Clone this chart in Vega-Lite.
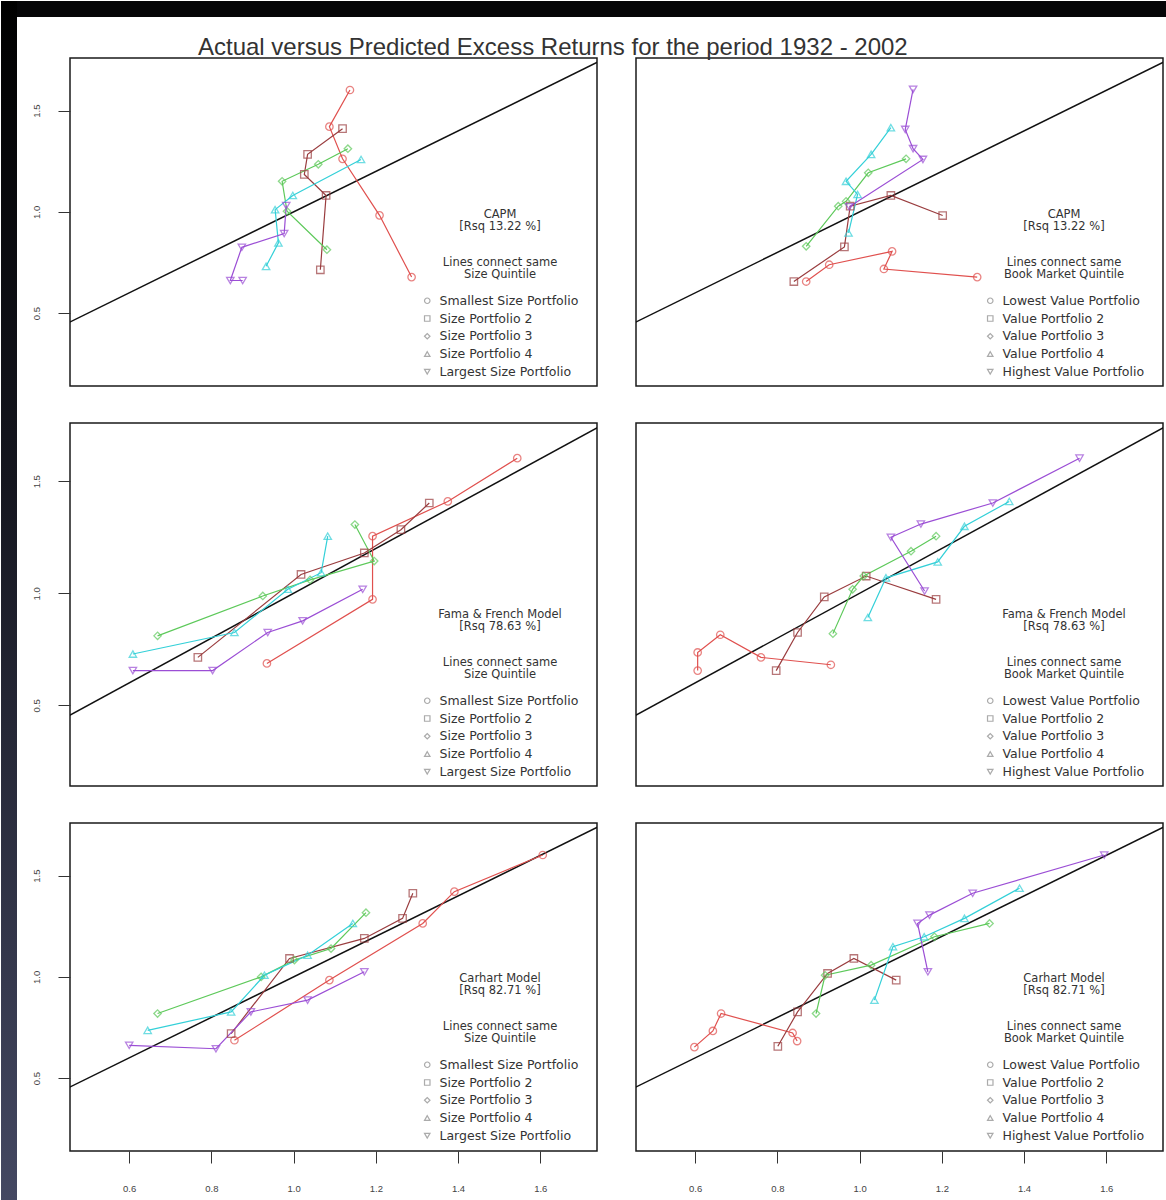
{
  "$schema": "https://vega.github.io/schema/vega-lite/v6.json",
  "background": "white",
  "padding": 0,
  "autosize": {"type": "pad"},
  "datasets": {
    "diag": [{"x": 0.3, "y": 0.3}, {"x": 1.9, "y": 1.9}],
    "pts": [
      {"p":"TL","s":1,"i":1,"x":1.287,"y":0.678},{"p":"TL","s":1,"i":2,"x":1.209,"y":0.983},{"p":"TL","s":1,"i":3,"x":1.119,"y":1.262},{"p":"TL","s":1,"i":4,"x":1.087,"y":1.421},{"p":"TL","s":1,"i":5,"x":1.137,"y":1.602},
      {"p":"TL","s":2,"i":1,"x":1.065,"y":0.714},{"p":"TL","s":2,"i":2,"x":1.079,"y":1.081},{"p":"TL","s":2,"i":3,"x":1.026,"y":1.185},{"p":"TL","s":2,"i":4,"x":1.034,"y":1.284},{"p":"TL","s":2,"i":5,"x":1.119,"y":1.411},
      {"p":"TL","s":3,"i":1,"x":1.081,"y":0.813},{"p":"TL","s":3,"i":2,"x":0.984,"y":1.003},{"p":"TL","s":3,"i":3,"x":0.972,"y":1.151},{"p":"TL","s":3,"i":4,"x":1.06,"y":1.235},{"p":"TL","s":3,"i":5,"x":1.132,"y":1.312},
      {"p":"TL","s":4,"i":1,"x":0.933,"y":0.731},{"p":"TL","s":4,"i":2,"x":0.963,"y":0.847},{"p":"TL","s":4,"i":3,"x":0.955,"y":1.011},{"p":"TL","s":4,"i":4,"x":0.998,"y":1.081},{"p":"TL","s":4,"i":5,"x":1.164,"y":1.259},
      {"p":"TL","s":5,"i":1,"x":0.876,"y":0.661},{"p":"TL","s":5,"i":2,"x":0.846,"y":0.661},{"p":"TL","s":5,"i":3,"x":0.874,"y":0.825},{"p":"TL","s":5,"i":4,"x":0.977,"y":0.893},{"p":"TL","s":5,"i":5,"x":0.982,"y":1.031},

      {"p":"TR","s":1,"i":1,"x":0.870,"y":0.656},{"p":"TR","s":1,"i":2,"x":0.926,"y":0.739},{"p":"TR","s":1,"i":3,"x":1.079,"y":0.805},{"p":"TR","s":1,"i":4,"x":1.059,"y":0.718},{"p":"TR","s":1,"i":5,"x":1.286,"y":0.678},
      {"p":"TR","s":2,"i":1,"x":0.840,"y":0.656},{"p":"TR","s":2,"i":2,"x":0.963,"y":0.827},{"p":"TR","s":2,"i":3,"x":0.977,"y":1.028},{"p":"TR","s":2,"i":4,"x":1.076,"y":1.081},{"p":"TR","s":2,"i":5,"x":1.202,"y":0.982},
      {"p":"TR","s":3,"i":1,"x":0.870,"y":0.830},{"p":"TR","s":3,"i":2,"x":0.948,"y":1.028},{"p":"TR","s":3,"i":3,"x":0.967,"y":1.052},{"p":"TR","s":3,"i":4,"x":1.021,"y":1.193},{"p":"TR","s":3,"i":5,"x":1.113,"y":1.262},
      {"p":"TR","s":4,"i":1,"x":0.973,"y":0.896},{"p":"TR","s":4,"i":2,"x":0.995,"y":1.086},{"p":"TR","s":4,"i":3,"x":0.967,"y":1.151},{"p":"TR","s":4,"i":4,"x":1.028,"y":1.284},{"p":"TR","s":4,"i":5,"x":1.076,"y":1.416},
      {"p":"TR","s":5,"i":1,"x":0.975,"y":1.025},{"p":"TR","s":5,"i":2,"x":1.154,"y":1.259},{"p":"TR","s":5,"i":3,"x":1.130,"y":1.312},{"p":"TR","s":5,"i":4,"x":1.111,"y":1.407},{"p":"TR","s":5,"i":5,"x":1.130,"y":1.605},

      {"p":"ML","s":1,"i":1,"x":0.935,"y":0.687},{"p":"ML","s":1,"i":2,"x":1.192,"y":0.973},{"p":"ML","s":1,"i":3,"x":1.192,"y":1.255},{"p":"ML","s":1,"i":4,"x":1.375,"y":1.41},{"p":"ML","s":1,"i":5,"x":1.544,"y":1.603},
      {"p":"ML","s":2,"i":1,"x":0.767,"y":0.714},{"p":"ML","s":2,"i":2,"x":1.018,"y":1.084},{"p":"ML","s":2,"i":3,"x":1.172,"y":1.18},{"p":"ML","s":2,"i":4,"x":1.261,"y":1.284},{"p":"ML","s":2,"i":5,"x":1.330,"y":1.403},
      {"p":"ML","s":3,"i":1,"x":0.669,"y":0.810},{"p":"ML","s":3,"i":2,"x":0.925,"y":0.988},{"p":"ML","s":3,"i":3,"x":1.04,"y":1.06},{"p":"ML","s":3,"i":4,"x":1.196,"y":1.144},{"p":"ML","s":3,"i":5,"x":1.149,"y":1.307},
      {"p":"ML","s":4,"i":1,"x":0.609,"y":0.729},{"p":"ML","s":4,"i":2,"x":0.856,"y":0.825},{"p":"ML","s":4,"i":3,"x":0.986,"y":1.018},{"p":"ML","s":4,"i":4,"x":1.067,"y":1.092},{"p":"ML","s":4,"i":5,"x":1.083,"y":1.255},
      {"p":"ML","s":5,"i":1,"x":0.609,"y":0.655},{"p":"ML","s":5,"i":2,"x":0.803,"y":0.655},{"p":"ML","s":5,"i":3,"x":0.937,"y":0.825},{"p":"ML","s":5,"i":4,"x":1.022,"y":0.877},{"p":"ML","s":5,"i":5,"x":1.168,"y":1.018},

      {"p":"MR","s":1,"i":1,"x":0.606,"y":0.655},{"p":"MR","s":1,"i":2,"x":0.606,"y":0.736},{"p":"MR","s":1,"i":3,"x":0.661,"y":0.815},{"p":"MR","s":1,"i":4,"x":0.760,"y":0.714},{"p":"MR","s":1,"i":5,"x":0.930,"y":0.681},
      {"p":"MR","s":2,"i":1,"x":0.797,"y":0.655},{"p":"MR","s":2,"i":2,"x":0.849,"y":0.825},{"p":"MR","s":2,"i":3,"x":0.914,"y":0.984},{"p":"MR","s":2,"i":4,"x":1.016,"y":1.077},{"p":"MR","s":2,"i":5,"x":1.186,"y":0.973},
      {"p":"MR","s":3,"i":1,"x":0.935,"y":0.82},{"p":"MR","s":3,"i":2,"x":0.983,"y":1.018},{"p":"MR","s":3,"i":3,"x":1.010,"y":1.077},{"p":"MR","s":3,"i":4,"x":1.125,"y":1.188},{"p":"MR","s":3,"i":5,"x":1.186,"y":1.255},
      {"p":"MR","s":4,"i":1,"x":1.020,"y":0.892},{"p":"MR","s":4,"i":2,"x":1.064,"y":1.069},{"p":"MR","s":4,"i":3,"x":1.190,"y":1.140},{"p":"MR","s":4,"i":4,"x":1.255,"y":1.299},{"p":"MR","s":4,"i":5,"x":1.364,"y":1.41},
      {"p":"MR","s":5,"i":1,"x":1.158,"y":1.01},{"p":"MR","s":5,"i":2,"x":1.076,"y":1.25},{"p":"MR","s":5,"i":3,"x":1.149,"y":1.309},{"p":"MR","s":5,"i":4,"x":1.324,"y":1.403},{"p":"MR","s":5,"i":5,"x":1.535,"y":1.603},

      {"p":"BL","s":1,"i":1,"x":0.856,"y":0.687},{"p":"BL","s":1,"i":2,"x":1.087,"y":0.984},{"p":"BL","s":1,"i":3,"x":1.314,"y":1.264},{"p":"BL","s":1,"i":4,"x":1.391,"y":1.421},{"p":"BL","s":1,"i":5,"x":1.606,"y":1.602},
      {"p":"BL","s":2,"i":1,"x":0.848,"y":0.72},{"p":"BL","s":2,"i":2,"x":0.99,"y":1.091},{"p":"BL","s":2,"i":3,"x":1.172,"y":1.19},{"p":"BL","s":2,"i":4,"x":1.265,"y":1.289},{"p":"BL","s":2,"i":5,"x":1.29,"y":1.413},
      {"p":"BL","s":3,"i":1,"x":0.669,"y":0.819},{"p":"BL","s":3,"i":2,"x":0.921,"y":1.0},{"p":"BL","s":3,"i":3,"x":1.002,"y":1.083},{"p":"BL","s":3,"i":4,"x":1.091,"y":1.14},{"p":"BL","s":3,"i":5,"x":1.176,"y":1.317},
      {"p":"BL","s":4,"i":1,"x":0.645,"y":0.736},{"p":"BL","s":4,"i":2,"x":0.848,"y":0.827},{"p":"BL","s":4,"i":3,"x":0.929,"y":1.008},{"p":"BL","s":4,"i":4,"x":1.034,"y":1.107},{"p":"BL","s":4,"i":5,"x":1.144,"y":1.264},
      {"p":"BL","s":5,"i":1,"x":0.600,"y":0.662},{"p":"BL","s":5,"i":2,"x":0.811,"y":0.645},{"p":"BL","s":5,"i":3,"x":0.896,"y":0.827},{"p":"BL","s":5,"i":4,"x":1.034,"y":0.885},{"p":"BL","s":5,"i":5,"x":1.172,"y":1.025},

      {"p":"BR","s":1,"i":1,"x":0.598,"y":0.653},{"p":"BR","s":1,"i":2,"x":0.643,"y":0.733},{"p":"BR","s":1,"i":3,"x":0.663,"y":0.819},{"p":"BR","s":1,"i":4,"x":0.837,"y":0.723},{"p":"BR","s":1,"i":5,"x":0.848,"y":0.683},
      {"p":"BR","s":2,"i":1,"x":0.801,"y":0.657},{"p":"BR","s":2,"i":2,"x":0.849,"y":0.827},{"p":"BR","s":2,"i":3,"x":0.922,"y":1.017},{"p":"BR","s":2,"i":4,"x":0.986,"y":1.091},{"p":"BR","s":2,"i":5,"x":1.089,"y":0.984},
      {"p":"BR","s":3,"i":1,"x":0.894,"y":0.819},{"p":"BR","s":3,"i":2,"x":0.916,"y":1.008},{"p":"BR","s":3,"i":3,"x":1.028,"y":1.058},{"p":"BR","s":3,"i":4,"x":1.182,"y":1.198},{"p":"BR","s":3,"i":5,"x":1.316,"y":1.264},
      {"p":"BR","s":4,"i":1,"x":1.036,"y":0.885},{"p":"BR","s":4,"i":2,"x":1.081,"y":1.149},{"p":"BR","s":4,"i":3,"x":1.157,"y":1.198},{"p":"BR","s":4,"i":4,"x":1.255,"y":1.289},{"p":"BR","s":4,"i":5,"x":1.389,"y":1.438},
      {"p":"BR","s":5,"i":1,"x":1.166,"y":1.025},{"p":"BR","s":5,"i":2,"x":1.141,"y":1.264},{"p":"BR","s":5,"i":3,"x":1.170,"y":1.305},{"p":"BR","s":5,"i":4,"x":1.275,"y":1.413},{"p":"BR","s":5,"i":5,"x":1.595,"y":1.602}
    ]
  },
  "columns": 2,
  "bounds": "flush",
  "spacing": {"row": 37, "column": 39},
  "resolve": {
    "scale": {"x": "independent", "y": "independent", "color": "independent", "shape": "independent"},
    "axis": {"x": "independent", "y": "independent"},
    "legend": {"color": "independent", "shape": "independent"}
  },
  "concat": [
    {
      "width": 527, "height": 328,
      "encoding": {
        "x": {"field": "x", "type": "quantitative", "scale": {"domain": [0.456, 1.738], "nice": false, "zero": false}, "axis": null},
        "y": {"field": "y", "type": "quantitative", "scale": {"domain": [0.14, 1.76], "nice": false, "zero": false}, "axis": {"orient": "left", "values": [0.5, 1, 1.5], "format": ".1f", "labelAngle": 270, "labelAlign": "center", "labelBaseline": "bottom", "labelPadding": 17}}
      },
      "layer": [
        {"data": {"name": "diag"}, "mark": {"type": "line", "color": "#111111", "strokeWidth": 1.5, "clip": true}},
        {"data": {"name": "pts"}, "transform": [{"filter": "datum.p == 'TL'"}], "mark": {"type": "line", "strokeWidth": 1.2},
         "encoding": {"color": {"field": "s", "type": "nominal", "legend": null}, "order": {"field": "i", "type": "quantitative"}}},
        {"data": {"name": "pts"}, "transform": [{"filter": "datum.p == 'TL'"}], "mark": {"type": "point", "filled": false, "size": 55, "strokeWidth": 1.3},
         "encoding": {
           "color": {"field": "s", "type": "nominal", "legend": {"legendX": 351, "legendY": 151, "title": ["CAPM", "[Rsq 13.22 %]", "\u200b", "\u200b", "Lines connect same", "Size Quintile"], "labelExpr": "['Smallest Size Portfolio','Size Portfolio 2','Size Portfolio 3','Size Portfolio 4','Largest Size Portfolio'][datum.value-1]"}},
           "shape": {"field": "s", "type": "nominal", "legend": {"legendX": 351, "legendY": 151, "title": ["CAPM", "[Rsq 13.22 %]", "\u200b", "\u200b", "Lines connect same", "Size Quintile"], "labelExpr": "['Smallest Size Portfolio','Size Portfolio 2','Size Portfolio 3','Size Portfolio 4','Largest Size Portfolio'][datum.value-1]"}}
         }}
      ]
    },
    {
      "width": 527, "height": 328,
      "title": {"text": "Actual versus Predicted Excess Returns for the period 1932 - 2002", "anchor": "start", "frame": "group", "dx": -438, "dy": 24, "offset": 3, "baseline": "alphabetic", "font": "Liberation Sans", "fontSize": 24, "fontWeight": "normal", "color": "#333333"},
      "encoding": {
        "x": {"field": "x", "type": "quantitative", "scale": {"domain": [0.456, 1.738], "nice": false, "zero": false}, "axis": null},
        "y": {"field": "y", "type": "quantitative", "scale": {"domain": [0.14, 1.76], "nice": false, "zero": false}, "axis": null}
      },
      "layer": [
        {"data": {"name": "diag"}, "mark": {"type": "line", "color": "#111111", "strokeWidth": 1.5, "clip": true}},
        {"data": {"name": "pts"}, "transform": [{"filter": "datum.p == 'TR'"}], "mark": {"type": "line", "strokeWidth": 1.2},
         "encoding": {"color": {"field": "s", "type": "nominal", "legend": null}, "order": {"field": "i", "type": "quantitative"}}},
        {"data": {"name": "pts"}, "transform": [{"filter": "datum.p == 'TR'"}], "mark": {"type": "point", "filled": false, "size": 55, "strokeWidth": 1.3},
         "encoding": {
           "color": {"field": "s", "type": "nominal", "legend": {"legendX": 348, "legendY": 151, "title": ["CAPM", "[Rsq 13.22 %]", "\u200b", "\u200b", "Lines connect same", "Book Market Quintile"], "labelExpr": "['Lowest Value Portfolio','Value Portfolio 2','Value Portfolio 3','Value Portfolio 4','Highest Value Portfolio'][datum.value-1]"}},
           "shape": {"field": "s", "type": "nominal", "legend": {"legendX": 348, "legendY": 151, "title": ["CAPM", "[Rsq 13.22 %]", "\u200b", "\u200b", "Lines connect same", "Book Market Quintile"], "labelExpr": "['Lowest Value Portfolio','Value Portfolio 2','Value Portfolio 3','Value Portfolio 4','Highest Value Portfolio'][datum.value-1]"}}
         }}
      ]
    },
    {
      "width": 527, "height": 363,
      "encoding": {
        "x": {"field": "x", "type": "quantitative", "scale": {"domain": [0.456, 1.738], "nice": false, "zero": false}, "axis": null},
        "y": {"field": "y", "type": "quantitative", "scale": {"domain": [0.14, 1.76], "nice": false, "zero": false}, "axis": {"orient": "left", "values": [0.5, 1, 1.5], "format": ".1f", "labelAngle": 270, "labelAlign": "center", "labelBaseline": "bottom", "labelPadding": 17}}
      },
      "layer": [
        {"data": {"name": "diag"}, "mark": {"type": "line", "color": "#111111", "strokeWidth": 1.5, "clip": true}},
        {"data": {"name": "pts"}, "transform": [{"filter": "datum.p == 'ML'"}], "mark": {"type": "line", "strokeWidth": 1.2},
         "encoding": {"color": {"field": "s", "type": "nominal", "legend": null}, "order": {"field": "i", "type": "quantitative"}}},
        {"data": {"name": "pts"}, "transform": [{"filter": "datum.p == 'ML'"}], "mark": {"type": "point", "filled": false, "size": 55, "strokeWidth": 1.3},
         "encoding": {
           "color": {"field": "s", "type": "nominal", "legend": {"legendX": 351, "legendY": 186, "title": ["Fama & French Model", "[Rsq 78.63 %]", "\u200b", "\u200b", "Lines connect same", "Size Quintile"], "labelExpr": "['Smallest Size Portfolio','Size Portfolio 2','Size Portfolio 3','Size Portfolio 4','Largest Size Portfolio'][datum.value-1]"}},
           "shape": {"field": "s", "type": "nominal", "legend": {"legendX": 351, "legendY": 186, "title": ["Fama & French Model", "[Rsq 78.63 %]", "\u200b", "\u200b", "Lines connect same", "Size Quintile"], "labelExpr": "['Smallest Size Portfolio','Size Portfolio 2','Size Portfolio 3','Size Portfolio 4','Largest Size Portfolio'][datum.value-1]"}}
         }}
      ]
    },
    {
      "width": 527, "height": 363,
      "encoding": {
        "x": {"field": "x", "type": "quantitative", "scale": {"domain": [0.456, 1.738], "nice": false, "zero": false}, "axis": null},
        "y": {"field": "y", "type": "quantitative", "scale": {"domain": [0.14, 1.76], "nice": false, "zero": false}, "axis": null}
      },
      "layer": [
        {"data": {"name": "diag"}, "mark": {"type": "line", "color": "#111111", "strokeWidth": 1.5, "clip": true}},
        {"data": {"name": "pts"}, "transform": [{"filter": "datum.p == 'MR'"}], "mark": {"type": "line", "strokeWidth": 1.2},
         "encoding": {"color": {"field": "s", "type": "nominal", "legend": null}, "order": {"field": "i", "type": "quantitative"}}},
        {"data": {"name": "pts"}, "transform": [{"filter": "datum.p == 'MR'"}], "mark": {"type": "point", "filled": false, "size": 55, "strokeWidth": 1.3},
         "encoding": {
           "color": {"field": "s", "type": "nominal", "legend": {"legendX": 348, "legendY": 186, "title": ["Fama & French Model", "[Rsq 78.63 %]", "\u200b", "\u200b", "Lines connect same", "Book Market Quintile"], "labelExpr": "['Lowest Value Portfolio','Value Portfolio 2','Value Portfolio 3','Value Portfolio 4','Highest Value Portfolio'][datum.value-1]"}},
           "shape": {"field": "s", "type": "nominal", "legend": {"legendX": 348, "legendY": 186, "title": ["Fama & French Model", "[Rsq 78.63 %]", "\u200b", "\u200b", "Lines connect same", "Book Market Quintile"], "labelExpr": "['Lowest Value Portfolio','Value Portfolio 2','Value Portfolio 3','Value Portfolio 4','Highest Value Portfolio'][datum.value-1]"}}
         }}
      ]
    },
    {
      "width": 527, "height": 328,
      "encoding": {
        "x": {"field": "x", "type": "quantitative", "scale": {"domain": [0.456, 1.738], "nice": false, "zero": false}, "axis": {"orient": "bottom", "values": [0.6, 0.8, 1, 1.2, 1.4, 1.6], "format": ".1f", "labelPadding": 20}},
        "y": {"field": "y", "type": "quantitative", "scale": {"domain": [0.14, 1.76], "nice": false, "zero": false}, "axis": {"orient": "left", "values": [0.5, 1, 1.5], "format": ".1f", "labelAngle": 270, "labelAlign": "center", "labelBaseline": "bottom", "labelPadding": 17}}
      },
      "layer": [
        {"data": {"name": "diag"}, "mark": {"type": "line", "color": "#111111", "strokeWidth": 1.5, "clip": true}},
        {"data": {"name": "pts"}, "transform": [{"filter": "datum.p == 'BL'"}], "mark": {"type": "line", "strokeWidth": 1.2},
         "encoding": {"color": {"field": "s", "type": "nominal", "legend": null}, "order": {"field": "i", "type": "quantitative"}}},
        {"data": {"name": "pts"}, "transform": [{"filter": "datum.p == 'BL'"}], "mark": {"type": "point", "filled": false, "size": 55, "strokeWidth": 1.3},
         "encoding": {
           "color": {"field": "s", "type": "nominal", "legend": {"legendX": 351, "legendY": 150, "title": ["Carhart Model", "[Rsq 82.71 %]", "\u200b", "\u200b", "Lines connect same", "Size Quintile"], "labelExpr": "['Smallest Size Portfolio','Size Portfolio 2','Size Portfolio 3','Size Portfolio 4','Largest Size Portfolio'][datum.value-1]"}},
           "shape": {"field": "s", "type": "nominal", "legend": {"legendX": 351, "legendY": 150, "title": ["Carhart Model", "[Rsq 82.71 %]", "\u200b", "\u200b", "Lines connect same", "Size Quintile"], "labelExpr": "['Smallest Size Portfolio','Size Portfolio 2','Size Portfolio 3','Size Portfolio 4','Largest Size Portfolio'][datum.value-1]"}}
         }}
      ]
    },
    {
      "width": 527, "height": 328,
      "layer": [
        {"data": {"name": "diag"}, "mark": {"type": "line", "color": "#111111", "strokeWidth": 1.5, "clip": true},
         "encoding": {
           "x": {"field": "x", "type": "quantitative", "scale": {"domain": [0.456, 1.738], "nice": false, "zero": false}, "axis": {"orient": "bottom", "values": [0.6, 0.8, 1, 1.2, 1.4, 1.6], "format": ".1f", "labelPadding": 20}},
           "y": {"field": "y", "type": "quantitative", "scale": {"domain": [0.14, 1.76], "nice": false, "zero": false}, "axis": null}
         }},
        {"data": {"name": "pts"}, "transform": [{"filter": "datum.p == 'BR'"}], "mark": {"type": "line", "strokeWidth": 1.2},
         "encoding": {
           "x": {"field": "x", "type": "quantitative", "axis": {"orient": "bottom", "values": [0.6, 0.8, 1, 1.2, 1.4, 1.6], "format": ".1f", "labelPadding": 20}},
           "y": {"field": "y", "type": "quantitative", "axis": null},
           "color": {"field": "s", "type": "nominal", "legend": null}, "order": {"field": "i", "type": "quantitative"}}},
        {"data": {"name": "pts"}, "transform": [{"filter": "datum.p == 'BR'"}], "mark": {"type": "point", "filled": false, "size": 55, "strokeWidth": 1.3},
         "encoding": {
           "x": {"field": "x", "type": "quantitative", "axis": {"orient": "bottom", "values": [0.6, 0.8, 1, 1.2, 1.4, 1.6], "format": ".1f", "labelPadding": 20}},
           "y": {"field": "y", "type": "quantitative", "axis": null},
           "color": {"field": "s", "type": "nominal", "legend": {"legendX": 348, "legendY": 150, "title": ["Carhart Model", "[Rsq 82.71 %]", "\u200b", "\u200b", "Lines connect same", "Book Market Quintile"], "labelExpr": "['Lowest Value Portfolio','Value Portfolio 2','Value Portfolio 3','Value Portfolio 4','Highest Value Portfolio'][datum.value-1]"}},
           "shape": {"field": "s", "type": "nominal", "legend": {"legendX": 348, "legendY": 150, "title": ["Carhart Model", "[Rsq 82.71 %]", "\u200b", "\u200b", "Lines connect same", "Book Market Quintile"], "labelExpr": "['Lowest Value Portfolio','Value Portfolio 2','Value Portfolio 3','Value Portfolio 4','Highest Value Portfolio'][datum.value-1]"}}
         }},
        {"data": {"values": [{"band": "top"}]}, "mark": {"type": "rect", "color": "#050507", "clip": false},
         "encoding": {
           "x": {"datum": -1.0887, "type": "quantitative", "axis": {"orient": "bottom", "values": [0.6, 0.8, 1, 1.2, 1.4, 1.6], "format": ".1f", "labelPadding": 20}},
           "x2": {"datum": 1.7453},
           "y": {"datum": 5.8199, "type": "quantitative", "axis": null},
           "y2": {"datum": 5.7408}
         }},
        {"data": {"values": [{"band": "left"}]}, "mark": {"type": "rect", "clip": false, "fill": {"gradient": "linear", "x1": 0, "y1": 0, "x2": 0, "y2": 1, "stops": [{"offset": 0, "color": "#000000"}, {"offset": 0.4, "color": "#15161f"}, {"offset": 1, "color": "#444862"}]}},
         "encoding": {
           "x": {"datum": -1.0887, "type": "quantitative", "axis": {"orient": "bottom", "values": [0.6, 0.8, 1, 1.2, 1.4, 1.6], "format": ".1f", "labelPadding": 20}},
           "x2": {"datum": -1.0498},
           "y": {"datum": 5.8199, "type": "quantitative", "axis": null},
           "y2": {"datum": -0.102}
         }}
      ]
    }
  ],
  "config": {
    "view": {"stroke": "#1a1a1a", "strokeWidth": 1.5},
    "axis": {"grid": false, "domain": false, "title": null, "ticks": true, "tickSize": 12, "tickColor": "#333333", "tickWidth": 1, "labelFont": "Liberation Sans", "labelFontSize": 9.5, "labelColor": "#444444", "labelFlush": false, "labelOverlap": false},
    "range": {
      "category": ["#e0504e", "#9a3d3f", "#5dc95a", "#33d0d8", "#9b4ed5"],
      "symbol": ["circle", "square", "diamond", "triangle-up", "triangle-down"]
    },
    "legend": {
      "orient": "none", "padding": 0,
      "titleFont": "DejaVu Sans", "titleFontSize": 11.5, "titleFontWeight": "normal", "titleColor": "#333333",
      "titleAnchor": "middle", "titleAlign": "center", "titleLineHeight": 12, "titlePadding": 14,
      "labelFont": "DejaVu Sans", "labelFontSize": 12.5, "labelColor": "#333333", "labelLimit": 300, "labelOffset": 6,
      "symbolSize": 30, "symbolStrokeWidth": 1.2, "rowPadding": 4.75
    }
  }
}
